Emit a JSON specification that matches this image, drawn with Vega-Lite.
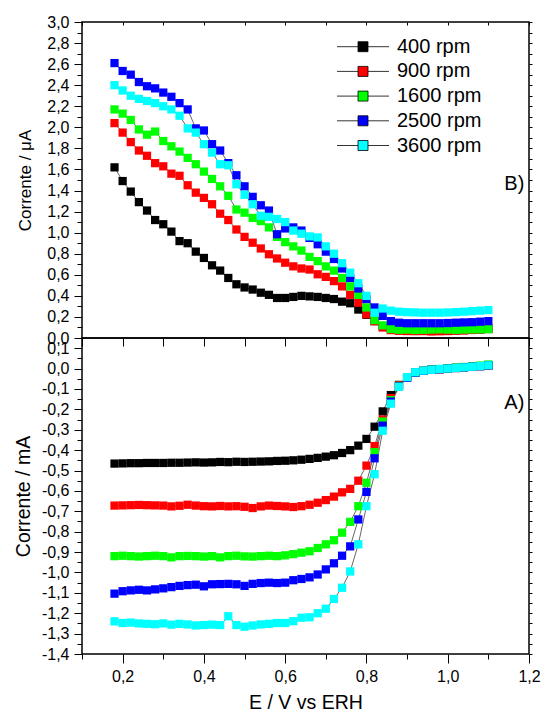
{
"$schema": "https://vega.github.io/schema/vega-lite/v6.json",
"background": "white",
"padding": {"left": 12, "top": 13, "right": 5, "bottom": 0},
"spacing": 0,
"bounds": "flush",
"config": {
 "font": "Liberation Sans",
 "view": {"stroke": "black", "strokeWidth": 1.5},
 "locale": {"number": {"decimal": ",", "thousands": ".", "grouping": [3], "currency": ["", ""], "minus": "-"}},
 "axis": {"domain": false, "grid": false, "tickColor": "black", "tickWidth": 1, "labelColor": "black", "titleColor": "black", "labelFontSize": 16, "labelFont": "Liberation Sans", "titleFont": "Liberation Sans", "titleFontWeight": "normal", "labelOverlap": false, "labelFlush": false, "labelPadding": 5}
},
"resolve": {"scale": {"color": "independent"}, "legend": {"color": "independent"}},
"datasets": {
"top": [
{"s":"400 rpm","E":0.18,"I":1.62},{"s":"400 rpm","E":0.20,"I":1.49},{"s":"400 rpm","E":0.22,"I":1.39},{"s":"400 rpm","E":0.24,"I":1.29},{"s":"400 rpm","E":0.26,"I":1.21},{"s":"400 rpm","E":0.28,"I":1.12},{"s":"400 rpm","E":0.30,"I":1.08},{"s":"400 rpm","E":0.32,"I":1.01},{"s":"400 rpm","E":0.34,"I":0.92},{"s":"400 rpm","E":0.36,"I":0.90},{"s":"400 rpm","E":0.38,"I":0.82},{"s":"400 rpm","E":0.40,"I":0.76},{"s":"400 rpm","E":0.42,"I":0.69},{"s":"400 rpm","E":0.44,"I":0.64},{"s":"400 rpm","E":0.46,"I":0.57},{"s":"400 rpm","E":0.48,"I":0.51},{"s":"400 rpm","E":0.50,"I":0.48},{"s":"400 rpm","E":0.52,"I":0.46},{"s":"400 rpm","E":0.54,"I":0.43},{"s":"400 rpm","E":0.56,"I":0.41},{"s":"400 rpm","E":0.58,"I":0.38},{"s":"400 rpm","E":0.60,"I":0.38},{"s":"400 rpm","E":0.62,"I":0.39},{"s":"400 rpm","E":0.64,"I":0.40},{"s":"400 rpm","E":0.66,"I":0.395},{"s":"400 rpm","E":0.68,"I":0.39},{"s":"400 rpm","E":0.70,"I":0.38},{"s":"400 rpm","E":0.72,"I":0.37},{"s":"400 rpm","E":0.74,"I":0.345},{"s":"400 rpm","E":0.76,"I":0.33},{"s":"400 rpm","E":0.78,"I":0.27},{"s":"400 rpm","E":0.80,"I":0.22},{"s":"400 rpm","E":0.82,"I":0.16},{"s":"400 rpm","E":0.84,"I":0.11},{"s":"400 rpm","E":0.86,"I":0.09},{"s":"400 rpm","E":0.88,"I":0.08},{"s":"400 rpm","E":0.90,"I":0.075},{"s":"400 rpm","E":0.92,"I":0.075},{"s":"400 rpm","E":0.94,"I":0.072},{"s":"400 rpm","E":0.96,"I":0.07},{"s":"400 rpm","E":0.98,"I":0.07},{"s":"400 rpm","E":1.00,"I":0.07},{"s":"400 rpm","E":1.02,"I":0.072},{"s":"400 rpm","E":1.04,"I":0.075},{"s":"400 rpm","E":1.06,"I":0.078},{"s":"400 rpm","E":1.08,"I":0.08},{"s":"400 rpm","E":1.10,"I":0.085},
{"s":"900 rpm","E":0.18,"I":2.04},{"s":"900 rpm","E":0.20,"I":1.95},{"s":"900 rpm","E":0.22,"I":1.86},{"s":"900 rpm","E":0.24,"I":1.78},{"s":"900 rpm","E":0.26,"I":1.73},{"s":"900 rpm","E":0.28,"I":1.66},{"s":"900 rpm","E":0.30,"I":1.63},{"s":"900 rpm","E":0.32,"I":1.56},{"s":"900 rpm","E":0.34,"I":1.54},{"s":"900 rpm","E":0.36,"I":1.45},{"s":"900 rpm","E":0.38,"I":1.38},{"s":"900 rpm","E":0.40,"I":1.33},{"s":"900 rpm","E":0.42,"I":1.27},{"s":"900 rpm","E":0.44,"I":1.18},{"s":"900 rpm","E":0.46,"I":1.12},{"s":"900 rpm","E":0.48,"I":1.03},{"s":"900 rpm","E":0.50,"I":0.96},{"s":"900 rpm","E":0.52,"I":0.905},{"s":"900 rpm","E":0.54,"I":0.85},{"s":"900 rpm","E":0.56,"I":0.795},{"s":"900 rpm","E":0.58,"I":0.755},{"s":"900 rpm","E":0.60,"I":0.715},{"s":"900 rpm","E":0.62,"I":0.68},{"s":"900 rpm","E":0.64,"I":0.66},{"s":"900 rpm","E":0.66,"I":0.65},{"s":"900 rpm","E":0.68,"I":0.605},{"s":"900 rpm","E":0.70,"I":0.58},{"s":"900 rpm","E":0.72,"I":0.54},{"s":"900 rpm","E":0.74,"I":0.49},{"s":"900 rpm","E":0.76,"I":0.41},{"s":"900 rpm","E":0.78,"I":0.335},{"s":"900 rpm","E":0.80,"I":0.225},{"s":"900 rpm","E":0.82,"I":0.16},{"s":"900 rpm","E":0.84,"I":0.10},{"s":"900 rpm","E":0.86,"I":0.075},{"s":"900 rpm","E":0.88,"I":0.068},{"s":"900 rpm","E":0.90,"I":0.066},{"s":"900 rpm","E":0.92,"I":0.065},{"s":"900 rpm","E":0.94,"I":0.066},{"s":"900 rpm","E":0.96,"I":0.062},{"s":"900 rpm","E":0.98,"I":0.064},{"s":"900 rpm","E":1.00,"I":0.066},{"s":"900 rpm","E":1.02,"I":0.07},{"s":"900 rpm","E":1.04,"I":0.072},{"s":"900 rpm","E":1.06,"I":0.076},{"s":"900 rpm","E":1.08,"I":0.08},{"s":"900 rpm","E":1.10,"I":0.092},
{"s":"1600 rpm","E":0.18,"I":2.17},{"s":"1600 rpm","E":0.20,"I":2.13},{"s":"1600 rpm","E":0.22,"I":2.07},{"s":"1600 rpm","E":0.24,"I":1.98},{"s":"1600 rpm","E":0.26,"I":1.93},{"s":"1600 rpm","E":0.28,"I":1.96},{"s":"1600 rpm","E":0.30,"I":1.87},{"s":"1600 rpm","E":0.32,"I":1.82},{"s":"1600 rpm","E":0.34,"I":1.77},{"s":"1600 rpm","E":0.36,"I":1.71},{"s":"1600 rpm","E":0.38,"I":1.65},{"s":"1600 rpm","E":0.40,"I":1.58},{"s":"1600 rpm","E":0.42,"I":1.51},{"s":"1600 rpm","E":0.44,"I":1.44},{"s":"1600 rpm","E":0.46,"I":1.35},{"s":"1600 rpm","E":0.48,"I":1.22},{"s":"1600 rpm","E":0.50,"I":1.19},{"s":"1600 rpm","E":0.52,"I":1.14},{"s":"1600 rpm","E":0.54,"I":1.11},{"s":"1600 rpm","E":0.56,"I":1.05},{"s":"1600 rpm","E":0.58,"I":0.96},{"s":"1600 rpm","E":0.60,"I":0.91},{"s":"1600 rpm","E":0.62,"I":0.87},{"s":"1600 rpm","E":0.64,"I":0.83},{"s":"1600 rpm","E":0.66,"I":0.77},{"s":"1600 rpm","E":0.68,"I":0.73},{"s":"1600 rpm","E":0.70,"I":0.68},{"s":"1600 rpm","E":0.72,"I":0.64},{"s":"1600 rpm","E":0.74,"I":0.57},{"s":"1600 rpm","E":0.76,"I":0.49},{"s":"1600 rpm","E":0.78,"I":0.41},{"s":"1600 rpm","E":0.80,"I":0.29},{"s":"1600 rpm","E":0.82,"I":0.17},{"s":"1600 rpm","E":0.84,"I":0.12},{"s":"1600 rpm","E":0.86,"I":0.085},{"s":"1600 rpm","E":0.88,"I":0.078},{"s":"1600 rpm","E":0.90,"I":0.08},{"s":"1600 rpm","E":0.92,"I":0.076},{"s":"1600 rpm","E":0.94,"I":0.078},{"s":"1600 rpm","E":0.96,"I":0.08},{"s":"1600 rpm","E":0.98,"I":0.082},{"s":"1600 rpm","E":1.00,"I":0.08},{"s":"1600 rpm","E":1.02,"I":0.078},{"s":"1600 rpm","E":1.04,"I":0.08},{"s":"1600 rpm","E":1.06,"I":0.082},{"s":"1600 rpm","E":1.08,"I":0.082},{"s":"1600 rpm","E":1.10,"I":0.085},
{"s":"2500 rpm","E":0.18,"I":2.61},{"s":"2500 rpm","E":0.20,"I":2.535},{"s":"2500 rpm","E":0.22,"I":2.50},{"s":"2500 rpm","E":0.24,"I":2.43},{"s":"2500 rpm","E":0.26,"I":2.39},{"s":"2500 rpm","E":0.28,"I":2.37},{"s":"2500 rpm","E":0.30,"I":2.33},{"s":"2500 rpm","E":0.32,"I":2.29},{"s":"2500 rpm","E":0.34,"I":2.23},{"s":"2500 rpm","E":0.36,"I":2.17},{"s":"2500 rpm","E":0.38,"I":1.99},{"s":"2500 rpm","E":0.40,"I":1.97},{"s":"2500 rpm","E":0.42,"I":1.84},{"s":"2500 rpm","E":0.44,"I":1.78},{"s":"2500 rpm","E":0.46,"I":1.66},{"s":"2500 rpm","E":0.48,"I":1.545},{"s":"2500 rpm","E":0.50,"I":1.44},{"s":"2500 rpm","E":0.52,"I":1.34},{"s":"2500 rpm","E":0.54,"I":1.26},{"s":"2500 rpm","E":0.56,"I":1.21},{"s":"2500 rpm","E":0.58,"I":0.985},{"s":"2500 rpm","E":0.60,"I":1.04},{"s":"2500 rpm","E":0.62,"I":1.05},{"s":"2500 rpm","E":0.64,"I":1.02},{"s":"2500 rpm","E":0.66,"I":0.95},{"s":"2500 rpm","E":0.68,"I":0.89},{"s":"2500 rpm","E":0.70,"I":0.82},{"s":"2500 rpm","E":0.72,"I":0.75},{"s":"2500 rpm","E":0.74,"I":0.66},{"s":"2500 rpm","E":0.76,"I":0.57},{"s":"2500 rpm","E":0.78,"I":0.47},{"s":"2500 rpm","E":0.80,"I":0.37},{"s":"2500 rpm","E":0.82,"I":0.29},{"s":"2500 rpm","E":0.84,"I":0.21},{"s":"2500 rpm","E":0.86,"I":0.16},{"s":"2500 rpm","E":0.88,"I":0.145},{"s":"2500 rpm","E":0.90,"I":0.14},{"s":"2500 rpm","E":0.92,"I":0.14},{"s":"2500 rpm","E":0.94,"I":0.14},{"s":"2500 rpm","E":0.96,"I":0.14},{"s":"2500 rpm","E":0.98,"I":0.14},{"s":"2500 rpm","E":1.00,"I":0.142},{"s":"2500 rpm","E":1.02,"I":0.145},{"s":"2500 rpm","E":1.04,"I":0.148},{"s":"2500 rpm","E":1.06,"I":0.15},{"s":"2500 rpm","E":1.08,"I":0.155},{"s":"2500 rpm","E":1.10,"I":0.16},
{"s":"3600 rpm","E":0.18,"I":2.40},{"s":"3600 rpm","E":0.20,"I":2.35},{"s":"3600 rpm","E":0.22,"I":2.30},{"s":"3600 rpm","E":0.24,"I":2.27},{"s":"3600 rpm","E":0.26,"I":2.25},{"s":"3600 rpm","E":0.28,"I":2.23},{"s":"3600 rpm","E":0.30,"I":2.20},{"s":"3600 rpm","E":0.32,"I":2.17},{"s":"3600 rpm","E":0.34,"I":2.11},{"s":"3600 rpm","E":0.36,"I":1.99},{"s":"3600 rpm","E":0.38,"I":1.95},{"s":"3600 rpm","E":0.40,"I":1.84},{"s":"3600 rpm","E":0.42,"I":1.76},{"s":"3600 rpm","E":0.44,"I":1.65},{"s":"3600 rpm","E":0.46,"I":1.64},{"s":"3600 rpm","E":0.48,"I":1.46},{"s":"3600 rpm","E":0.50,"I":1.36},{"s":"3600 rpm","E":0.52,"I":1.27},{"s":"3600 rpm","E":0.54,"I":1.16},{"s":"3600 rpm","E":0.56,"I":1.15},{"s":"3600 rpm","E":0.58,"I":1.13},{"s":"3600 rpm","E":0.60,"I":1.10},{"s":"3600 rpm","E":0.62,"I":1.02},{"s":"3600 rpm","E":0.64,"I":0.99},{"s":"3600 rpm","E":0.66,"I":0.965},{"s":"3600 rpm","E":0.68,"I":0.955},{"s":"3600 rpm","E":0.70,"I":0.87},{"s":"3600 rpm","E":0.72,"I":0.80},{"s":"3600 rpm","E":0.74,"I":0.71},{"s":"3600 rpm","E":0.76,"I":0.62},{"s":"3600 rpm","E":0.78,"I":0.52},{"s":"3600 rpm","E":0.80,"I":0.40},{"s":"3600 rpm","E":0.82,"I":0.24},{"s":"3600 rpm","E":0.84,"I":0.28},{"s":"3600 rpm","E":0.86,"I":0.26},{"s":"3600 rpm","E":0.88,"I":0.25},{"s":"3600 rpm","E":0.90,"I":0.245},{"s":"3600 rpm","E":0.92,"I":0.243},{"s":"3600 rpm","E":0.94,"I":0.24},{"s":"3600 rpm","E":0.96,"I":0.24},{"s":"3600 rpm","E":0.98,"I":0.24},{"s":"3600 rpm","E":1.00,"I":0.243},{"s":"3600 rpm","E":1.02,"I":0.246},{"s":"3600 rpm","E":1.04,"I":0.25},{"s":"3600 rpm","E":1.06,"I":0.255},{"s":"3600 rpm","E":1.08,"I":0.26},{"s":"3600 rpm","E":1.10,"I":0.265}
],
"bottom": [
{"s":"400 rpm","E":0.18,"I":-0.466},{"s":"400 rpm","E":0.20,"I":-0.465},{"s":"400 rpm","E":0.22,"I":-0.464},{"s":"400 rpm","E":0.24,"I":-0.464},{"s":"400 rpm","E":0.26,"I":-0.463},{"s":"400 rpm","E":0.28,"I":-0.463},{"s":"400 rpm","E":0.30,"I":-0.463},{"s":"400 rpm","E":0.32,"I":-0.462},{"s":"400 rpm","E":0.34,"I":-0.462},{"s":"400 rpm","E":0.36,"I":-0.461},{"s":"400 rpm","E":0.38,"I":-0.46},{"s":"400 rpm","E":0.40,"I":-0.461},{"s":"400 rpm","E":0.42,"I":-0.46},{"s":"400 rpm","E":0.44,"I":-0.458},{"s":"400 rpm","E":0.46,"I":-0.459},{"s":"400 rpm","E":0.48,"I":-0.457},{"s":"400 rpm","E":0.50,"I":-0.458},{"s":"400 rpm","E":0.52,"I":-0.457},{"s":"400 rpm","E":0.54,"I":-0.456},{"s":"400 rpm","E":0.56,"I":-0.455},{"s":"400 rpm","E":0.58,"I":-0.453},{"s":"400 rpm","E":0.60,"I":-0.452},{"s":"400 rpm","E":0.62,"I":-0.45},{"s":"400 rpm","E":0.64,"I":-0.447},{"s":"400 rpm","E":0.66,"I":-0.443},{"s":"400 rpm","E":0.68,"I":-0.438},{"s":"400 rpm","E":0.70,"I":-0.432},{"s":"400 rpm","E":0.72,"I":-0.425},{"s":"400 rpm","E":0.74,"I":-0.414},{"s":"400 rpm","E":0.76,"I":-0.40},{"s":"400 rpm","E":0.78,"I":-0.378},{"s":"400 rpm","E":0.80,"I":-0.345},{"s":"400 rpm","E":0.82,"I":-0.285},{"s":"400 rpm","E":0.84,"I":-0.21},{"s":"400 rpm","E":0.86,"I":-0.13},{"s":"400 rpm","E":0.88,"I":-0.08},{"s":"400 rpm","E":0.90,"I":-0.042},{"s":"400 rpm","E":0.92,"I":-0.02},{"s":"400 rpm","E":0.94,"I":-0.011},{"s":"400 rpm","E":0.96,"I":-0.006},{"s":"400 rpm","E":0.98,"I":-0.003},{"s":"400 rpm","E":1.00,"I":0.0},{"s":"400 rpm","E":1.02,"I":0.003},{"s":"400 rpm","E":1.04,"I":0.006},{"s":"400 rpm","E":1.06,"I":0.009},{"s":"400 rpm","E":1.08,"I":0.012},{"s":"400 rpm","E":1.10,"I":0.015},
{"s":"900 rpm","E":0.18,"I":-0.672},{"s":"900 rpm","E":0.20,"I":-0.671},{"s":"900 rpm","E":0.22,"I":-0.670},{"s":"900 rpm","E":0.24,"I":-0.669},{"s":"900 rpm","E":0.26,"I":-0.670},{"s":"900 rpm","E":0.28,"I":-0.671},{"s":"900 rpm","E":0.30,"I":-0.672},{"s":"900 rpm","E":0.32,"I":-0.676},{"s":"900 rpm","E":0.34,"I":-0.673},{"s":"900 rpm","E":0.36,"I":-0.668},{"s":"900 rpm","E":0.38,"I":-0.672},{"s":"900 rpm","E":0.40,"I":-0.675},{"s":"900 rpm","E":0.42,"I":-0.676},{"s":"900 rpm","E":0.44,"I":-0.674},{"s":"900 rpm","E":0.46,"I":-0.676},{"s":"900 rpm","E":0.48,"I":-0.675},{"s":"900 rpm","E":0.50,"I":-0.678},{"s":"900 rpm","E":0.52,"I":-0.684},{"s":"900 rpm","E":0.54,"I":-0.676},{"s":"900 rpm","E":0.56,"I":-0.672},{"s":"900 rpm","E":0.58,"I":-0.674},{"s":"900 rpm","E":0.60,"I":-0.676},{"s":"900 rpm","E":0.62,"I":-0.679},{"s":"900 rpm","E":0.64,"I":-0.675},{"s":"900 rpm","E":0.66,"I":-0.668},{"s":"900 rpm","E":0.68,"I":-0.658},{"s":"900 rpm","E":0.70,"I":-0.645},{"s":"900 rpm","E":0.72,"I":-0.628},{"s":"900 rpm","E":0.74,"I":-0.607},{"s":"900 rpm","E":0.76,"I":-0.59},{"s":"900 rpm","E":0.78,"I":-0.55},{"s":"900 rpm","E":0.80,"I":-0.476},{"s":"900 rpm","E":0.82,"I":-0.38},{"s":"900 rpm","E":0.84,"I":-0.25},{"s":"900 rpm","E":0.86,"I":-0.145},{"s":"900 rpm","E":0.88,"I":-0.082},{"s":"900 rpm","E":0.90,"I":-0.043},{"s":"900 rpm","E":0.92,"I":-0.02},{"s":"900 rpm","E":0.94,"I":-0.011},{"s":"900 rpm","E":0.96,"I":-0.006},{"s":"900 rpm","E":0.98,"I":-0.003},{"s":"900 rpm","E":1.00,"I":0.0},{"s":"900 rpm","E":1.02,"I":0.003},{"s":"900 rpm","E":1.04,"I":0.006},{"s":"900 rpm","E":1.06,"I":0.009},{"s":"900 rpm","E":1.08,"I":0.012},{"s":"900 rpm","E":1.10,"I":0.016},
{"s":"1600 rpm","E":0.18,"I":-0.92},{"s":"1600 rpm","E":0.20,"I":-0.918},{"s":"1600 rpm","E":0.22,"I":-0.92},{"s":"1600 rpm","E":0.24,"I":-0.922},{"s":"1600 rpm","E":0.26,"I":-0.92},{"s":"1600 rpm","E":0.28,"I":-0.918},{"s":"1600 rpm","E":0.30,"I":-0.92},{"s":"1600 rpm","E":0.32,"I":-0.926},{"s":"1600 rpm","E":0.34,"I":-0.92},{"s":"1600 rpm","E":0.36,"I":-0.919},{"s":"1600 rpm","E":0.38,"I":-0.92},{"s":"1600 rpm","E":0.40,"I":-0.922},{"s":"1600 rpm","E":0.42,"I":-0.92},{"s":"1600 rpm","E":0.44,"I":-0.926},{"s":"1600 rpm","E":0.46,"I":-0.92},{"s":"1600 rpm","E":0.48,"I":-0.918},{"s":"1600 rpm","E":0.50,"I":-0.921},{"s":"1600 rpm","E":0.52,"I":-0.922},{"s":"1600 rpm","E":0.54,"I":-0.92},{"s":"1600 rpm","E":0.56,"I":-0.918},{"s":"1600 rpm","E":0.58,"I":-0.92},{"s":"1600 rpm","E":0.60,"I":-0.916},{"s":"1600 rpm","E":0.62,"I":-0.91},{"s":"1600 rpm","E":0.64,"I":-0.903},{"s":"1600 rpm","E":0.66,"I":-0.896},{"s":"1600 rpm","E":0.68,"I":-0.88},{"s":"1600 rpm","E":0.70,"I":-0.862},{"s":"1600 rpm","E":0.72,"I":-0.842},{"s":"1600 rpm","E":0.74,"I":-0.805},{"s":"1600 rpm","E":0.76,"I":-0.752},{"s":"1600 rpm","E":0.78,"I":-0.675},{"s":"1600 rpm","E":0.80,"I":-0.56},{"s":"1600 rpm","E":0.82,"I":-0.41},{"s":"1600 rpm","E":0.84,"I":-0.26},{"s":"1600 rpm","E":0.86,"I":-0.155},{"s":"1600 rpm","E":0.88,"I":-0.085},{"s":"1600 rpm","E":0.90,"I":-0.044},{"s":"1600 rpm","E":0.92,"I":-0.02},{"s":"1600 rpm","E":0.94,"I":-0.01},{"s":"1600 rpm","E":0.96,"I":-0.005},{"s":"1600 rpm","E":0.98,"I":-0.002},{"s":"1600 rpm","E":1.00,"I":0.002},{"s":"1600 rpm","E":1.02,"I":0.005},{"s":"1600 rpm","E":1.04,"I":0.008},{"s":"1600 rpm","E":1.06,"I":0.011},{"s":"1600 rpm","E":1.08,"I":0.015},{"s":"1600 rpm","E":1.10,"I":0.02},
{"s":"2500 rpm","E":0.18,"I":-1.104},{"s":"2500 rpm","E":0.20,"I":-1.092},{"s":"2500 rpm","E":0.22,"I":-1.088},{"s":"2500 rpm","E":0.24,"I":-1.085},{"s":"2500 rpm","E":0.26,"I":-1.088},{"s":"2500 rpm","E":0.28,"I":-1.083},{"s":"2500 rpm","E":0.30,"I":-1.078},{"s":"2500 rpm","E":0.32,"I":-1.072},{"s":"2500 rpm","E":0.34,"I":-1.066},{"s":"2500 rpm","E":0.36,"I":-1.062},{"s":"2500 rpm","E":0.38,"I":-1.06},{"s":"2500 rpm","E":0.40,"I":-1.068},{"s":"2500 rpm","E":0.42,"I":-1.058},{"s":"2500 rpm","E":0.44,"I":-1.057},{"s":"2500 rpm","E":0.46,"I":-1.056},{"s":"2500 rpm","E":0.48,"I":-1.058},{"s":"2500 rpm","E":0.50,"I":-1.066},{"s":"2500 rpm","E":0.52,"I":-1.056},{"s":"2500 rpm","E":0.54,"I":-1.052},{"s":"2500 rpm","E":0.56,"I":-1.05},{"s":"2500 rpm","E":0.58,"I":-1.052},{"s":"2500 rpm","E":0.60,"I":-1.05},{"s":"2500 rpm","E":0.62,"I":-1.038},{"s":"2500 rpm","E":0.64,"I":-1.032},{"s":"2500 rpm","E":0.66,"I":-1.024},{"s":"2500 rpm","E":0.68,"I":-1.01},{"s":"2500 rpm","E":0.70,"I":-0.985},{"s":"2500 rpm","E":0.72,"I":-0.955},{"s":"2500 rpm","E":0.74,"I":-0.918},{"s":"2500 rpm","E":0.76,"I":-0.872},{"s":"2500 rpm","E":0.78,"I":-0.74},{"s":"2500 rpm","E":0.80,"I":-0.605},{"s":"2500 rpm","E":0.82,"I":-0.44},{"s":"2500 rpm","E":0.84,"I":-0.28},{"s":"2500 rpm","E":0.86,"I":-0.162},{"s":"2500 rpm","E":0.88,"I":-0.088},{"s":"2500 rpm","E":0.90,"I":-0.045},{"s":"2500 rpm","E":0.92,"I":-0.02},{"s":"2500 rpm","E":0.94,"I":-0.011},{"s":"2500 rpm","E":0.96,"I":-0.006},{"s":"2500 rpm","E":0.98,"I":-0.003},{"s":"2500 rpm","E":1.00,"I":0.0},{"s":"2500 rpm","E":1.02,"I":0.003},{"s":"2500 rpm","E":1.04,"I":0.006},{"s":"2500 rpm","E":1.06,"I":0.009},{"s":"2500 rpm","E":1.08,"I":0.012},{"s":"2500 rpm","E":1.10,"I":0.016},
{"s":"3600 rpm","E":0.18,"I":-1.24},{"s":"3600 rpm","E":0.20,"I":-1.248},{"s":"3600 rpm","E":0.22,"I":-1.246},{"s":"3600 rpm","E":0.24,"I":-1.25},{"s":"3600 rpm","E":0.26,"I":-1.252},{"s":"3600 rpm","E":0.28,"I":-1.254},{"s":"3600 rpm","E":0.30,"I":-1.25},{"s":"3600 rpm","E":0.32,"I":-1.256},{"s":"3600 rpm","E":0.34,"I":-1.252},{"s":"3600 rpm","E":0.36,"I":-1.255},{"s":"3600 rpm","E":0.38,"I":-1.26},{"s":"3600 rpm","E":0.40,"I":-1.258},{"s":"3600 rpm","E":0.42,"I":-1.256},{"s":"3600 rpm","E":0.44,"I":-1.258},{"s":"3600 rpm","E":0.46,"I":-1.215},{"s":"3600 rpm","E":0.48,"I":-1.258},{"s":"3600 rpm","E":0.50,"I":-1.266},{"s":"3600 rpm","E":0.52,"I":-1.26},{"s":"3600 rpm","E":0.54,"I":-1.255},{"s":"3600 rpm","E":0.56,"I":-1.252},{"s":"3600 rpm","E":0.58,"I":-1.248},{"s":"3600 rpm","E":0.60,"I":-1.248},{"s":"3600 rpm","E":0.62,"I":-1.239},{"s":"3600 rpm","E":0.64,"I":-1.222},{"s":"3600 rpm","E":0.66,"I":-1.22},{"s":"3600 rpm","E":0.68,"I":-1.2},{"s":"3600 rpm","E":0.70,"I":-1.178},{"s":"3600 rpm","E":0.72,"I":-1.13},{"s":"3600 rpm","E":0.74,"I":-1.075},{"s":"3600 rpm","E":0.76,"I":-0.995},{"s":"3600 rpm","E":0.78,"I":-0.862},{"s":"3600 rpm","E":0.80,"I":-0.675},{"s":"3600 rpm","E":0.82,"I":-0.518},{"s":"3600 rpm","E":0.84,"I":-0.305},{"s":"3600 rpm","E":0.86,"I":-0.172},{"s":"3600 rpm","E":0.88,"I":-0.09},{"s":"3600 rpm","E":0.90,"I":-0.042},{"s":"3600 rpm","E":0.92,"I":-0.018},{"s":"3600 rpm","E":0.94,"I":-0.01},{"s":"3600 rpm","E":0.96,"I":-0.006},{"s":"3600 rpm","E":0.98,"I":-0.002},{"s":"3600 rpm","E":1.00,"I":0.0},{"s":"3600 rpm","E":1.02,"I":0.003},{"s":"3600 rpm","E":1.04,"I":0.006},{"s":"3600 rpm","E":1.06,"I":0.009},{"s":"3600 rpm","E":1.08,"I":0.012},{"s":"3600 rpm","E":1.10,"I":0.016}
]
},
"vconcat": [
{
 "width": 447, "height": 316,
 "data": {"name": "top"},
 "resolve": {"axis": {"x": "independent", "y": "independent"}},
 "layer": [
  {"mark": {"type": "line", "color": "black", "strokeWidth": 0.6},
   "encoding": {
    "x": {"field": "E", "type": "quantitative", "scale": {"domain": [0.1, 1.2], "nice": false, "zero": false},
          "axis": {"orient": "bottom", "values": [0.1,0.2,0.3,0.4,0.5,0.6,0.7,0.8,0.9,1.0,1.1,1.2], "labels": false, "tickSize": 8, "title": null}},
    "y": {"field": "I", "type": "quantitative", "scale": {"domain": [0, 3], "nice": false, "zero": false},
          "axis": {"orient": "left", "values": [0,0.1,0.2,0.3,0.4,0.5,0.6,0.7,0.8,0.9,1.0,1.1,1.2,1.3,1.4,1.5,1.6,1.7,1.8,1.9,2.0,2.1,2.2,2.3,2.4,2.5,2.6,2.7,2.8,2.9,3.0],
                   "format": ".1f", "labelExpr": "round(datum.value*10) % 2 == 0 ? datum.label : ''",
                   "tickSize": {"condition": {"test": "round(datum.value*10) % 2 == 0", "value": 8}, "value": 5},
                   "title": "Corrente / μA", "titleFontSize": 17, "titlePadding": 12}},
    "detail": {"field": "s"}
   }},
  {"mark": {"type": "point", "shape": "square", "filled": true, "size": 68, "opacity": 1},
   "encoding": {
    "x": {"field": "E", "type": "quantitative",
          "axis": {"orient": "top", "values": [0.1,0.2,0.3,0.4,0.5,0.6,0.7,0.8,0.9,1.0,1.1,1.2], "labels": false, "tickSize": -3, "title": null}},
    "y": {"field": "I", "type": "quantitative",
          "axis": {"orient": "right", "values": [0,0.1,0.2,0.3,0.4,0.5,0.6,0.7,0.8,0.9,1.0,1.1,1.2,1.3,1.4,1.5,1.6,1.7,1.8,1.9,2.0,2.1,2.2,2.3,2.4,2.5,2.6,2.7,2.8,2.9,3.0], "labels": false, "tickSize": 3, "title": null}},
    "color": {"field": "s", "type": "nominal",
      "scale": {"domain": ["400 rpm", "900 rpm", "1600 rpm", "2500 rpm", "3600 rpm"], "range": ["#000000", "#ff0000", "#00ff00", "#0000ff", "#00ffff"]},
      "legend": {"orient": "none", "legendX": 271, "legendY": 14.7, "title": null,
        "symbolType": "M-5.2,0H-1M1,0H5.2M-1,-1H1V1H-1Z", "symbolSize": 100,
        "symbolStrokeColor": "black", "symbolStrokeWidth": 0.8,
        "labelFontSize": 20, "labelFont": "Liberation Sans", "labelColor": "black", "labelOffset": 24, "rowPadding": 4.7, "padding": 0,
        "encode": {"symbols": {"stroke": {"value": "black"}, "strokeWidth": {"value": 0.8}, "strokeOpacity": {"value": 1}, "opacity": {"value": 1}}}}}
   }},
  {"data": {"values": [{}]},
   "mark": {"type": "text", "text": "B)", "fontSize": 20, "font": "Liberation Sans", "color": "black", "align": "center", "baseline": "middle"},
   "encoding": {
    "x": {"datum": 1.164, "type": "quantitative", "axis": null},
    "y": {"datum": 1.46, "type": "quantitative", "axis": null}
   }}
 ]
},
{
 "width": 447, "height": 316,
 "data": {"name": "bottom"},
 "resolve": {"axis": {"x": "independent", "y": "independent"}},
 "layer": [
  {"mark": {"type": "line", "color": "black", "strokeWidth": 0.6},
   "encoding": {
    "x": {"field": "E", "type": "quantitative", "scale": {"domain": [0.1, 1.2], "nice": false, "zero": false},
          "axis": {"orient": "bottom", "values": [0.1,0.2,0.3,0.4,0.5,0.6,0.7,0.8,0.9,1.0,1.1,1.2], "format": ".1f",
                   "labelExpr": "round(datum.value*10) % 2 == 0 ? datum.label : ''",
                   "tickSize": {"condition": {"test": "round(datum.value*10) % 2 == 0", "value": 9}, "value": 5},
                   "title": "E / V vs ERH", "titleFontSize": 19.5, "titlePadding": 9}},
    "y": {"field": "I", "type": "quantitative", "scale": {"domain": [-1.4, 0.15], "nice": false, "zero": false},
          "axis": {"orient": "left", "values": [-1.4,-1.35,-1.3,-1.25,-1.2,-1.15,-1.1,-1.05,-1.0,-0.95,-0.9,-0.85,-0.8,-0.75,-0.7,-0.65,-0.6,-0.55,-0.5,-0.45,-0.4,-0.35,-0.3,-0.25,-0.2,-0.15,-0.1,-0.05,0,0.05,0.1,0.15],
                   "format": ".1f", "labelExpr": "round(datum.value*20) % 2 == 0 ? datum.label : ''",
                   "tickSize": {"condition": {"test": "round(datum.value*20) % 2 == 0", "value": 8}, "value": 5},
                   "title": "Corrente / mA", "titleFontSize": 19.5, "titlePadding": 8}},
    "detail": {"field": "s"}
   }},
  {"mark": {"type": "point", "shape": "square", "filled": true, "size": 68, "opacity": 1},
   "encoding": {
    "x": {"field": "E", "type": "quantitative", "axis": null},
    "y": {"field": "I", "type": "quantitative",
          "axis": {"orient": "right", "values": [-1.4,-1.35,-1.3,-1.25,-1.2,-1.15,-1.1,-1.05,-1.0,-0.95,-0.9,-0.85,-0.8,-0.75,-0.7,-0.65,-0.6,-0.55,-0.5,-0.45,-0.4,-0.35,-0.3,-0.25,-0.2,-0.15,-0.1,-0.05,0,0.05,0.1,0.15], "labels": false, "tickSize": 3, "title": null}},
    "color": {"field": "s", "type": "nominal",
      "scale": {"domain": ["400 rpm", "900 rpm", "1600 rpm", "2500 rpm", "3600 rpm"], "range": ["#000000", "#ff0000", "#00ff00", "#0000ff", "#00ffff"]},
      "legend": null}
   }},
  {"data": {"values": [{}]},
   "mark": {"type": "text", "text": "A)", "fontSize": 20, "font": "Liberation Sans", "color": "black", "align": "center", "baseline": "middle"},
   "encoding": {
    "x": {"datum": 1.164, "type": "quantitative", "axis": null},
    "y": {"datum": -0.168, "type": "quantitative", "axis": null}
   }}
 ]
}
]
}
